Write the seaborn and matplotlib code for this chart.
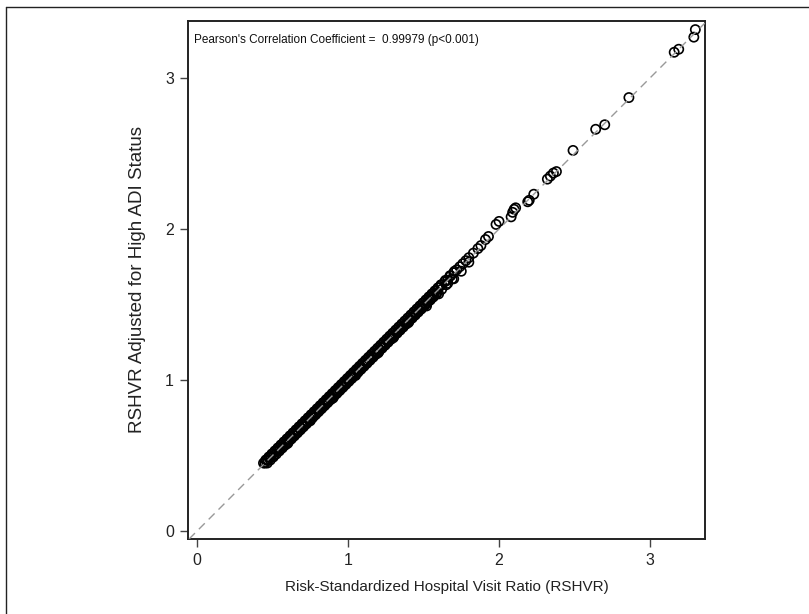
import matplotlib
matplotlib.use("Agg")
import matplotlib.pyplot as plt
import seaborn as sns
import pandas as pd
from matplotlib.lines import Line2D

# Dense part of the cloud (RSHVR, adjusted RSHVR)
rshvr_dense = [0.44, 0.45, 0.46, 0.47, 0.48, 0.49, 0.50, 0.51, 0.52, 0.53,
               0.54, 0.55, 0.56, 0.57, 0.58, 0.59, 0.60, 0.61, 0.62, 0.63,
               0.64, 0.65, 0.66, 0.67, 0.68, 0.69, 0.70, 0.71, 0.72, 0.73,
               0.74, 0.75, 0.76, 0.77, 0.78, 0.79, 0.80, 0.81, 0.82, 0.83,
               0.84, 0.85, 0.86, 0.87, 0.88, 0.89, 0.90, 0.91, 0.92, 0.93,
               0.94, 0.95, 0.96, 0.97, 0.98, 0.99, 1.00, 1.01, 1.02, 1.03,
               1.04, 1.05, 1.06, 1.07, 1.08, 1.09, 1.10, 1.11, 1.12, 1.13,
               1.14, 1.15, 1.16, 1.17, 1.18, 1.19, 1.20, 1.21, 1.22, 1.23,
               1.24, 1.25, 1.26, 1.27, 1.28, 1.29, 1.30, 1.31, 1.32, 1.33,
               1.34, 1.35, 1.36, 1.37, 1.38, 1.39, 1.40, 1.41, 1.42, 1.43,
               1.44, 1.45, 1.46, 1.47, 1.48, 1.49, 1.50, 1.51, 1.52, 1.53,
               1.54, 1.55, 1.56, 1.57, 1.58, 1.59, 1.60, 1.62, 1.64, 1.66,
               1.68, 1.70, 1.72, 1.74, 1.76, 1.78, 1.80, 1.83, 1.86, 1.88]
adjusted_dense = [0.45, 0.45, 0.47, 0.47, 0.49, 0.49, 0.51, 0.50, 0.53, 0.53,
                  0.55, 0.54, 0.57, 0.56, 0.59, 0.58, 0.61, 0.60, 0.63, 0.62,
                  0.65, 0.64, 0.67, 0.66, 0.69, 0.68, 0.71, 0.70, 0.73, 0.72,
                  0.75, 0.74, 0.77, 0.76, 0.79, 0.78, 0.81, 0.80, 0.83, 0.82,
                  0.85, 0.84, 0.87, 0.86, 0.89, 0.88, 0.91, 0.90, 0.93, 0.92,
                  0.95, 0.94, 0.97, 0.96, 0.99, 0.98, 1.01, 1.00, 1.03, 1.02,
                  1.05, 1.04, 1.07, 1.06, 1.09, 1.08, 1.11, 1.10, 1.13, 1.12,
                  1.15, 1.14, 1.17, 1.16, 1.19, 1.18, 1.21, 1.20, 1.23, 1.22,
                  1.25, 1.24, 1.27, 1.26, 1.29, 1.28, 1.31, 1.30, 1.33, 1.32,
                  1.35, 1.34, 1.37, 1.36, 1.39, 1.38, 1.41, 1.40, 1.43, 1.42,
                  1.45, 1.44, 1.47, 1.46, 1.49, 1.48, 1.51, 1.50, 1.53, 1.52,
                  1.55, 1.54, 1.57, 1.56, 1.59, 1.58, 1.61, 1.63, 1.65, 1.66,
                  1.69, 1.71, 1.73, 1.75, 1.77, 1.79, 1.81, 1.84, 1.87, 1.89]

# Hospitals just above the diagonal
rshvr_upper = [0.455, 0.475, 0.495, 0.515, 0.535, 0.555, 0.575, 0.595, 0.615, 0.635,
               0.655, 0.675, 0.695, 0.715, 0.735, 0.755, 0.775, 0.795, 0.815, 0.835,
               0.855, 0.875, 0.895, 0.915, 0.935, 0.955, 0.975, 0.995, 1.015, 1.035,
               1.055, 1.075, 1.095, 1.115, 1.135, 1.155, 1.175, 1.195, 1.215, 1.235,
               1.255, 1.275, 1.295, 1.315, 1.335, 1.355, 1.375, 1.395, 1.415, 1.435,
               1.455, 1.475, 1.495, 1.515, 1.535, 1.555, 1.575, 1.595, 1.615, 1.645,
               1.675, 1.705]
adjusted_upper = [0.470, 0.490, 0.510, 0.530, 0.550, 0.570, 0.590, 0.610, 0.630, 0.650,
                  0.670, 0.690, 0.710, 0.730, 0.750, 0.770, 0.790, 0.810, 0.830, 0.850,
                  0.870, 0.890, 0.910, 0.930, 0.950, 0.970, 0.990, 1.010, 1.030, 1.050,
                  1.070, 1.090, 1.110, 1.130, 1.150, 1.170, 1.190, 1.210, 1.230, 1.250,
                  1.270, 1.290, 1.310, 1.330, 1.350, 1.370, 1.390, 1.410, 1.430, 1.450,
                  1.470, 1.490, 1.510, 1.530, 1.550, 1.570, 1.590, 1.610, 1.630, 1.660,
                  1.690, 1.720]

# Hospitals just below the diagonal
rshvr_lower = [0.465, 0.485, 0.505, 0.525, 0.545, 0.565, 0.585, 0.605, 0.625, 0.645,
               0.665, 0.685, 0.705, 0.725, 0.745, 0.765, 0.785, 0.805, 0.825, 0.845,
               0.865, 0.885, 0.905, 0.925, 0.945, 0.965, 0.985, 1.005, 1.025, 1.045,
               1.065, 1.085, 1.105, 1.125, 1.145, 1.165, 1.185, 1.205, 1.225, 1.245,
               1.265, 1.285, 1.305, 1.325, 1.345, 1.365, 1.385, 1.405, 1.425, 1.445,
               1.465, 1.485, 1.505, 1.525, 1.545, 1.565, 1.585, 1.620, 1.650, 1.690]
adjusted_lower = [0.450, 0.470, 0.490, 0.510, 0.530, 0.550, 0.570, 0.590, 0.610, 0.630,
                  0.650, 0.670, 0.690, 0.710, 0.730, 0.750, 0.770, 0.790, 0.810, 0.830,
                  0.850, 0.870, 0.890, 0.910, 0.930, 0.950, 0.970, 0.990, 1.010, 1.030,
                  1.050, 1.070, 1.090, 1.110, 1.130, 1.150, 1.170, 1.190, 1.210, 1.230,
                  1.250, 1.270, 1.290, 1.310, 1.330, 1.350, 1.370, 1.390, 1.410, 1.430,
                  1.450, 1.470, 1.490, 1.510, 1.530, 1.550, 1.570, 1.600, 1.630, 1.670]

# Hospitals a little further off the diagonal inside the band
rshvr_off = [0.60, 0.75, 0.90, 1.05, 1.20, 1.30, 1.40, 1.52, 1.60, 1.66, 1.70, 1.75, 1.80]
adjusted_off = [0.58, 0.73, 0.88, 1.03, 1.18, 1.28, 1.38, 1.49, 1.57, 1.64, 1.67, 1.72, 1.78]

# Sparse high-ratio hospitals
rshvr_sparse = [1.91, 1.93, 1.98, 2.00, 2.08, 2.09, 2.10, 2.11, 2.19, 2.20,
                2.23, 2.32, 2.34, 2.36, 2.38, 2.49, 2.64, 2.70, 2.86, 3.16,
                3.19, 3.29, 3.30]
adjusted_sparse = [1.93, 1.95, 2.03, 2.05, 2.08, 2.11, 2.13, 2.14, 2.18, 2.19,
                   2.23, 2.33, 2.35, 2.37, 2.38, 2.52, 2.66, 2.69, 2.87, 3.17,
                   3.19, 3.27, 3.32]

x_ticks = [0, 1, 2, 3]
y_ticks = [0, 1, 2, 3]
annotation = "Pearson's Correlation Coefficient =  0.99979 (p<0.001)"
x_label = "Risk-Standardized Hospital Visit Ratio (RSHVR)"
y_label = "RSHVR Adjusted for High ADI Status"

df = pd.DataFrame({
    "RSHVR": rshvr_dense + rshvr_upper + rshvr_lower + rshvr_off + rshvr_sparse,
    "Adjusted": adjusted_dense + adjusted_upper + adjusted_lower + adjusted_off + adjusted_sparse,
})

sns.set_theme(style="white")
plt.rcParams["font.family"] = ["Liberation Sans", "DejaVu Sans"]

fig = plt.figure(figsize=(8.09, 6.14), dpi=100)
ax = fig.add_axes([188 / 809, 1 - 539 / 614, (705 - 188) / 809, (539 - 21) / 614])

ax.axline((0, 0), slope=1, color="#999999", lw=1.0, ls=(0, (6, 4)), zorder=3)
sns.scatterplot(data=df, x="RSHVR", y="Adjusted", ax=ax, marker="o", s=44,
                fc="none", ec="black", linewidth=1.2, zorder=2)

ax.set_xlim(-0.06, 3.364)
ax.set_ylim(-0.053, 3.377)
ax.set_xticks(x_ticks)
ax.set_yticks(y_ticks)
ax.set_xticklabels([str(t) for t in x_ticks], fontsize=11.5, color="#222222")
ax.set_yticklabels([str(t) for t in y_ticks], fontsize=11.5, color="#222222")
ax.tick_params(axis="both", which="major", direction="out", length=6, width=1,
               color="#444444", pad=4, bottom=True, left=True)
ax.set_xlabel(x_label, fontsize=11, color="#222222", labelpad=9)
ax.set_ylabel(y_label, fontsize=13.5, color="#222222", labelpad=14)
for sp in ax.spines.values():
    sp.set_color("#222222")
    sp.set_linewidth(1.4)

ax.text(0.012, 0.974, annotation, transform=ax.transAxes, fontsize=8.5,
        color="#111111", ha="left", va="top")

# Outer frame of the figure
fig.add_artist(Line2D([6 / 809, 6 / 809], [0, 1 - 7 / 614], transform=fig.transFigure,
                      color="#222222", lw=1.0))
fig.add_artist(Line2D([6 / 809, 1], [1 - 7 / 614, 1 - 7 / 614], transform=fig.transFigure,
                      color="#222222", lw=1.0))

fig.savefig("out.png", dpi=100)
